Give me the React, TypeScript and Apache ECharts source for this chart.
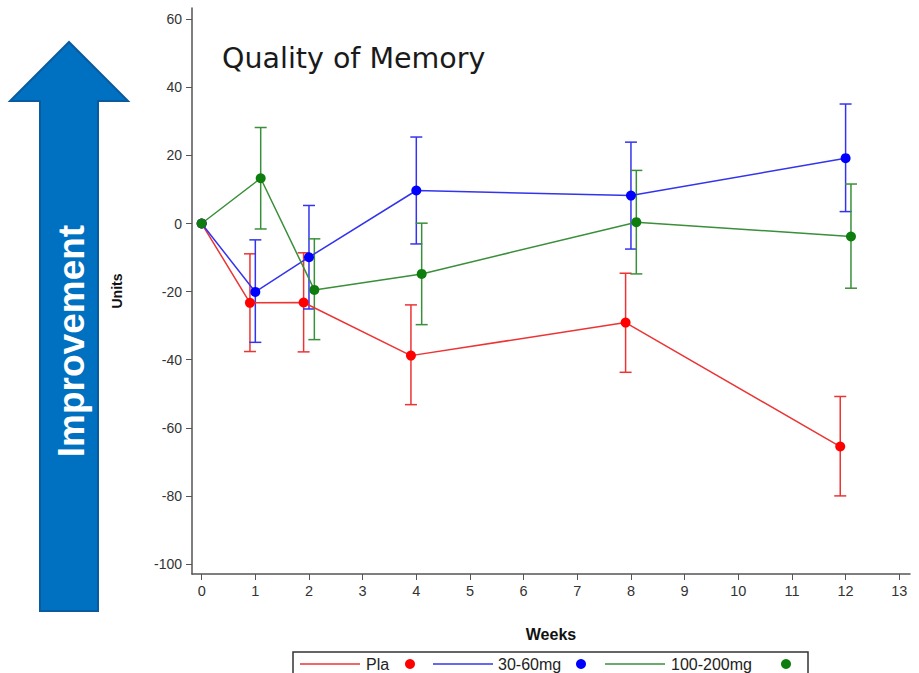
import React, { useEffect, useRef } from "react";
import * as echarts from "echarts";

const weeks = [0, 1, 2, 4, 8, 12];
const xTicks = [0, 1, 2, 3, 4, 5, 6, 7, 8, 9, 10, 11, 12, 13];
const yTicks = [-100, -80, -60, -40, -20, 0, 20, 40, 60];

const plaMean = [0, -23.3, -23.2, -38.8, -29.1, -65.5];
const plaLow = [null, -37.6, -37.7, -53.2, -43.7, -80.0];
const plaHigh = [null, -8.9, -8.6, -23.9, -14.6, -50.8];

const lowDoseMean = [0, -20.1, -9.9, 9.7, 8.2, 19.2];
const lowDoseLow = [null, -34.9, -25.1, -6.0, -7.5, 3.5];
const lowDoseHigh = [null, -4.8, 5.3, 25.4, 23.9, 35.1];

const highDoseMean = [0, 13.3, -19.5, -14.8, 0.4, -3.8];
const highDoseLow = [null, -1.6, -34.1, -29.7, -14.8, -19.0];
const highDoseHigh = [null, 28.2, -4.5, 0.1, 15.6, 11.6];

const groups = [
  { name: "Pla", mean: plaMean, low: plaLow, high: plaHigh, offset: -0.1, line: "#ec3434", marker: "#ff0000" },
  { name: "30-60mg", mean: lowDoseMean, low: lowDoseLow, high: lowDoseHigh, offset: 0, line: "#3434ee", marker: "#0000ff" },
  { name: "100-200mg", mean: highDoseMean, low: highDoseLow, high: highDoseHigh, offset: 0.1, line: "#3a8f3a", marker: "#0d7d0d" },
];

export default function App() {
  const ref = useRef<HTMLDivElement>(null);
  useEffect(() => {
    if (!ref.current) return;
    const chart = echarts.init(ref.current, null, { renderer: "svg" });
    const series: any[] = [];
    groups.forEach((g) => {
      const xs = weeks.map((w) => (w === 0 ? 0 : w + g.offset));
      series.push({
        type: "line",
        name: g.name,
        data: xs.map((x, i) => [x, g.mean[i]]),
        symbol: "circle",
        symbolSize: 10,
        showSymbol: true,
        lineStyle: { color: g.line, width: 1.5 },
        itemStyle: { color: g.marker },
        z: 3,
      });
      series.push({
        type: "custom",
        name: g.name + " err",
        data: xs
          .map((x, i) => [x, g.low[i], g.high[i]])
          .filter((d) => d[1] !== null),
        renderItem: (params: any, api: any) => {
          const x = api.value(0);
          const lo = api.coord([x, api.value(1)]);
          const hi = api.coord([x, api.value(2)]);
          const w = 6;
          const st = { stroke: g.line, lineWidth: 1.5 };
          return {
            type: "group",
            children: [
              { type: "line", shape: { x1: lo[0], y1: lo[1], x2: hi[0], y2: hi[1] }, style: st },
              { type: "line", shape: { x1: lo[0] - w, y1: lo[1], x2: lo[0] + w, y2: lo[1] }, style: st },
              { type: "line", shape: { x1: hi[0] - w, y1: hi[1], x2: hi[0] + w, y2: hi[1] }, style: st },
            ],
          };
        },
        z: 2,
      });
    });

    const legendY = 664;
    const legendItems = [
      { x0: 300, x1: 360, tx: 366, dot: 410, color: 0 },
      { x0: 433, x1: 493, tx: 498, dot: 581, color: 1 },
      { x0: 605, x1: 665, tx: 671, dot: 786, color: 2 },
    ];
    const graphic: any[] = [
      {
        type: "polygon",
        shape: {
          points: [
            [69, 42], [128, 101], [98, 101], [98, 611], [40, 611], [40, 101], [10, 101],
          ],
        },
        style: { fill: "#0070c0", stroke: "#0a5aa0", lineWidth: 2 },
      },
      {
        type: "text",
        x: 71,
        y: 341,
        rotation: Math.PI / 2,
        style: {
          text: "Improvement",
          font: "bold 37px 'Liberation Sans', Arial, sans-serif",
          fill: "#ffffff",
          align: "center",
          verticalAlign: "middle",
          textAlign: "center",
          textVerticalAlign: "middle",
        },
      },
      {
        type: "text",
        x: 222,
        y: 58,
        style: {
          text: "Quality of Memory",
          font: "28.5px 'DejaVu Sans', sans-serif",
          fill: "#1a1a1a",
          align: "left",
          verticalAlign: "middle",
          textAlign: "left",
          textVerticalAlign: "middle",
        },
      },
      {
        type: "rect",
        shape: { x: 293, y: 652, width: 515, height: 40 },
        style: { fill: "none", stroke: "#333333", lineWidth: 1.5 },
      },
    ];
    legendItems.forEach((it) => {
      const g = groups[it.color];
      graphic.push({
        type: "line",
        shape: { x1: it.x0, y1: legendY, x2: it.x1, y2: legendY },
        style: { stroke: g.line, lineWidth: 1.5 },
      });
      graphic.push({
        type: "text",
        x: it.tx,
        y: legendY,
        style: {
          text: g.name,
          font: "16px 'Liberation Sans', Arial, sans-serif",
          fill: "#222222",
          align: "left",
          verticalAlign: "middle",
          textAlign: "left",
          textVerticalAlign: "middle",
        },
      });
      graphic.push({
        type: "circle",
        shape: { cx: it.dot, cy: legendY, r: 5 },
        style: { fill: g.marker },
      });
    });

    chart.setOption({
      animation: false,
      backgroundColor: "#ffffff",
      grid: { left: 192, right: 9, top: 8, bottom: 99, containLabel: false },
      xAxis: {
        type: "value",
        min: -0.18,
        max: 13.2,
        name: "Weeks",
        nameLocation: "middle",
        nameGap: 52,
        nameTextStyle: { fontFamily: "Liberation Sans, Arial", fontWeight: "bold", fontSize: 16, color: "#111" },
        axisLine: { show: true, onZero: false, lineStyle: { color: "#555", width: 1.5 } },
        axisTick: { show: true, length: 6, customValues: xTicks, lineStyle: { color: "#555" } },
        axisLabel: { customValues: xTicks, fontSize: 14.5, color: "#333", margin: 9, fontFamily: "Liberation Sans, Arial" },
        splitLine: { show: false },
      },
      yAxis: {
        type: "value",
        min: -102.94,
        max: 63.3,
        name: "Units",
        nameLocation: "middle",
        nameRotate: 90,
        nameGap: 68,
        nameTextStyle: { fontFamily: "Liberation Sans, Arial", fontWeight: "bold", fontSize: 14, color: "#111" },
        axisLine: { show: true, onZero: false, lineStyle: { color: "#555", width: 1.5 } },
        axisTick: { show: true, length: 6, customValues: yTicks, lineStyle: { color: "#555" } },
        axisLabel: { customValues: yTicks, fontSize: 14, color: "#333", margin: 10, fontFamily: "Liberation Sans, Arial" },
        splitLine: { show: false },
      },
      series,
      graphic,
    });
    return () => chart.dispose();
  }, []);
  return (
    <div
      ref={ref}
      style={{ position: "fixed", left: 0, top: 0, width: 919, height: 673 }}
    />
  );
}
